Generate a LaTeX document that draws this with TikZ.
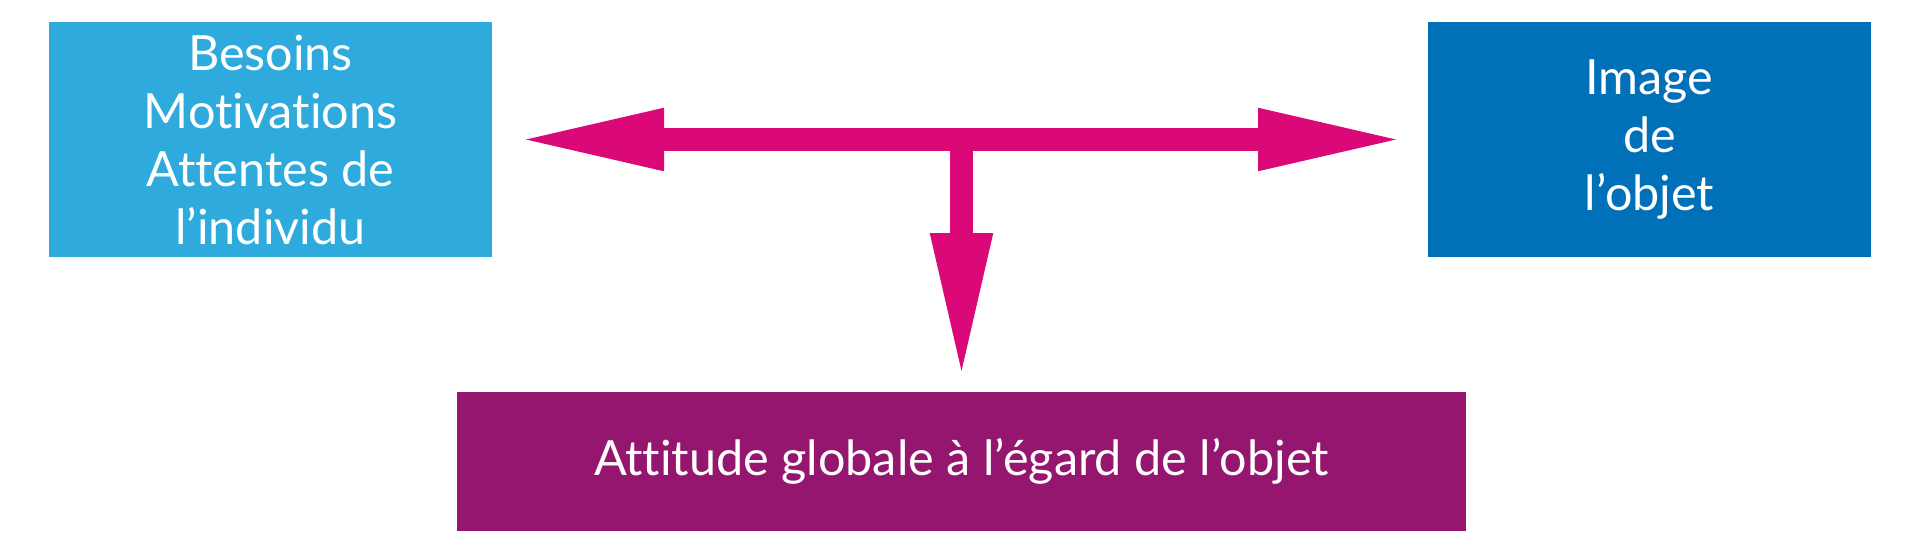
\documentclass[tikz,border=0pt]{standalone}
\usepackage{fontspec}
\setmainfont{Lato}[Ligatures={NoCommon,NoContextual,NoRequired}]
\usetikzlibrary{arrows.meta}
\definecolor{lblue}{HTML}{2EABDC}
\definecolor{dblue}{HTML}{0070B9}
\definecolor{purp}{HTML}{95166F}
\definecolor{mag}{HTML}{DB0878}
\tikzset{
  box/.style={rectangle, inner sep=0pt, outer sep=0pt, text=white, align=center,
    font=\fontsize{48.5}{58}\selectfont},
  bigarrow/.style={draw=mag, line width=23pt,
    arrows={-{Triangle[length=149pt,width=56pt]}}},
  bigarrows/.style={draw=mag, line width=23pt,
    arrows={{Triangle[length=149pt,width=56pt]}-{Triangle[length=149pt,width=56pt]}}}
}
\begin{document}
\begin{tikzpicture}[x=1pt,y=-1pt]
\useasboundingbox (0,0) rectangle (1920,558);
\node[box, fill=lblue, minimum width=443pt, minimum height=235pt] (lb) at (270.5,139.5)
  {Besoins\\Motivations\\Attentes de\\l’individu};
\node[box, fill=dblue, minimum width=443pt, minimum height=235pt] (rb) at (1649.5,139.5)
  {Image\\de\\l’objet};
\node[box, fill=purp, minimum width=1009pt, minimum height=139pt] (pb) at (961.5,461.5)
  {Attitude globale à l’égard de l’objet};
\coordinate (j) at (pb.north |- lb.east);
\draw[bigarrows, shorten <=23pt, shorten >=21pt] (lb.east) -- (rb.west);
\draw[bigarrow, shorten >=10pt] (j) -- (pb.north);
\end{tikzpicture}
\end{document}
